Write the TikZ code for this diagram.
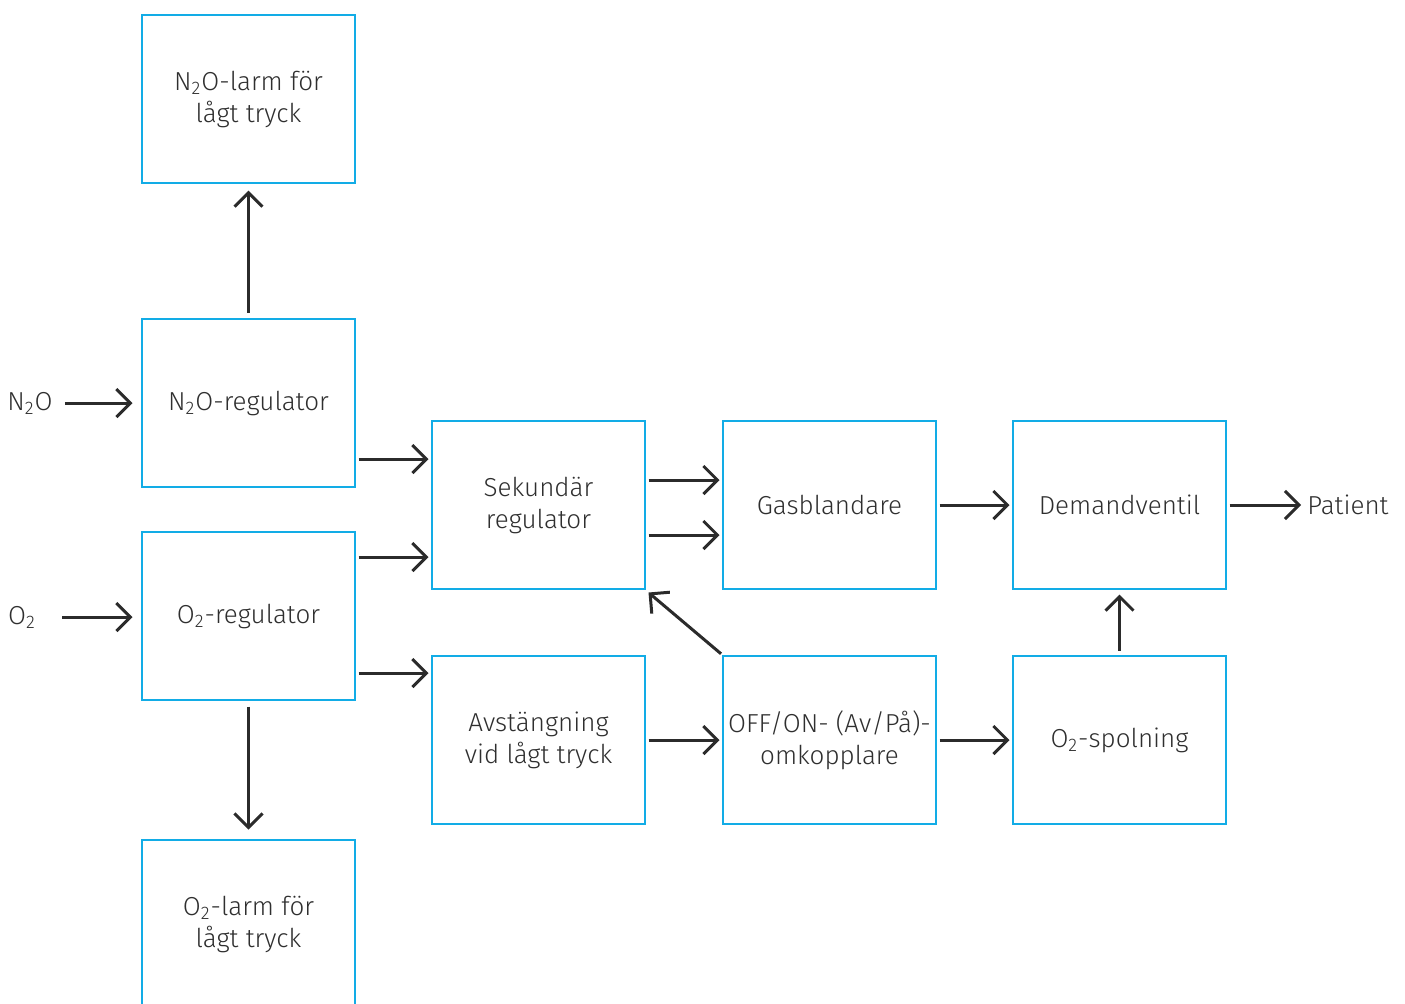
\documentclass[tikz,border=0pt]{standalone}
\usepackage{fontspec}
\setmainfont{Fira Sans}[UprightFont={* Light}]
\usetikzlibrary{arrows.meta}
\tikzset{>={Straight Barb[length=7pt,width=14pt]}}
\definecolor{boxblue}{HTML}{12ACE6}
\definecolor{inkgray}{HTML}{2B2B2B}
\definecolor{txtgray}{HTML}{2F2F2F}
\tikzset{
  block/.style={draw=boxblue, line width=1.25pt, minimum width=106.5pt,
    minimum height=84pt, align=center, text=txtgray, outer sep=1.75pt,
    font=\fontsize{13}{16}\selectfont},
  label/.style={text=txtgray, inner sep=0pt, font=\fontsize{13}{16}\selectfont},
  arr/.style={->, draw=inkgray, line width=1.5pt}
}

\begin{document}
\begin{tikzpicture}[x=0.5pt, y=-0.5pt]
      \useasboundingbox (0,0) rectangle (1405,1003);
      % blocks
      \node[block] (larmN2O) at (248.5, 99) {N\textsubscript{2}O-larm för\\lågt tryck};
      \node[block] (regN2O) at (248.5, 403) {N\textsubscript{2}O-regulator};
      \node[block] (regO2) at (248.5, 616) {O\textsubscript{2}-regulator};
      \node[block] (larmO2) at (248.5, 924) {O\textsubscript{2}-larm för\\lågt tryck};
      \node[block] (sek) at (538.5, 505) {Sekundär\\regulator};
      \node[block] (gas) at (829.5, 505) {Gasblandare};
      \node[block] (dem) at (1119.5, 505) {Demandventil};
      \node[block] (avst) at (538.5, 740) {Avstängning\\vid lågt tryck};
      \node[block, inner xsep=0pt] (offon) at (829.5, 740) {OFF/ON- (Av/På)-\\omkopplare};
      \node[block] (spol) at (1119.5, 740) {O\textsubscript{2}-spolning};
      % inlets and outlet
      \node[label] (inN2O) at (30, 403) {N\textsubscript{2}O};
      \node[label] (inO2) at (22, 617) {O\textsubscript{2}};
      \node[label] (patient) at (1348, 505) {Patient};
      % arrows
      \draw[arr, shorten <=6pt, shorten >=3pt] (inN2O) -- (regN2O);
      \draw[arr, shorten <=13pt, shorten >=3pt] (inO2.east) -- (inO2.east -| regO2.west);
      \draw[arr, shorten <=1.5pt, shorten >=2pt] (regN2O) -- (larmN2O);
      \draw[arr, shorten <=1.5pt, shorten >=3.5pt] (regO2) -- (larmO2);
      \draw[arr] ([yshift=-28pt]regN2O.east) -- ([yshift=23pt]sek.west);
      \draw[arr] ([yshift=29.5pt]regO2.east) -- ([yshift=-26pt]sek.west);
      \draw[arr] ([yshift=-28.5pt]regO2.east) -- ([yshift=33.5pt]avst.west);
      \draw[arr] ([yshift=12.5pt]sek.east) -- ([yshift=12.5pt]gas.west);
      \draw[arr] ([yshift=-15pt]sek.east) -- ([yshift=-15pt]gas.west);
      \draw[arr] (gas) -- (dem);
      \draw[arr, shorten >=3pt] (dem) -- (patient);
      \draw[arr] (avst) -- (offon);
      \draw[arr] (offon) -- (spol);
      \draw[arr, shorten <=1pt, shorten >=1pt] (spol) -- (dem);
      \draw[arr, shorten <=-1pt] (offon.north west) -- (sek.south east);
\end{tikzpicture}
\end{document}
